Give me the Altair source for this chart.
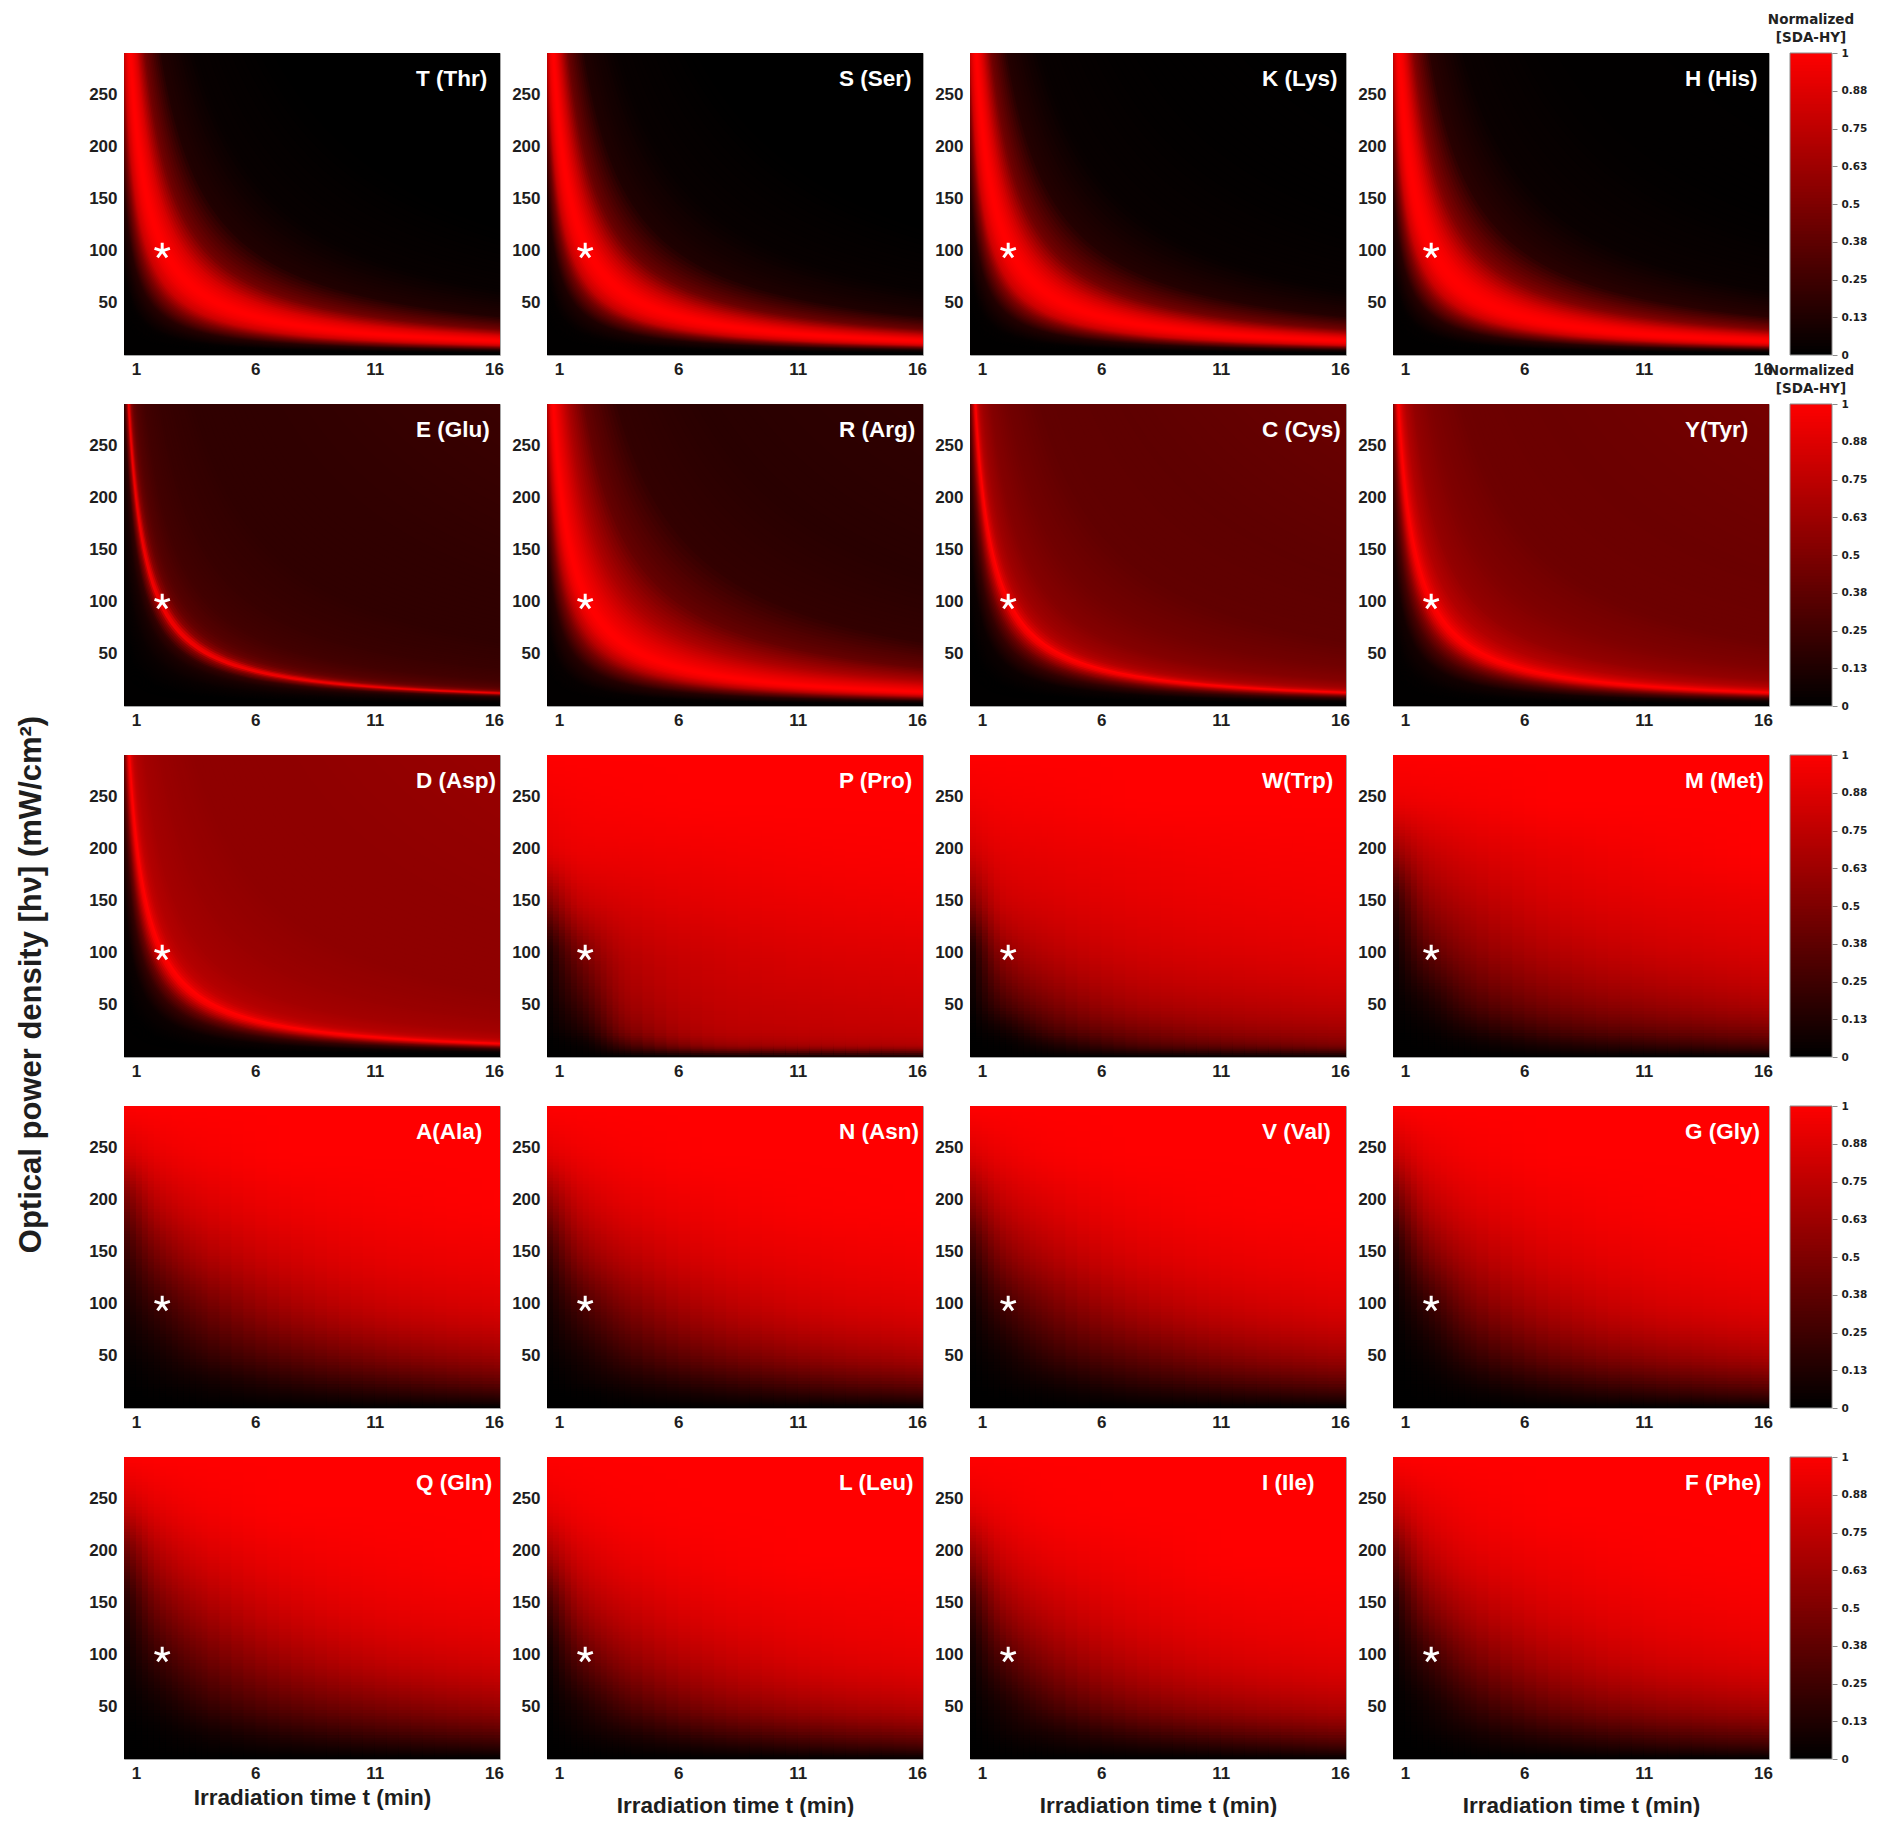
import numpy as np
import pandas as pd
import altair as alt

alt.data_transformers.disable_max_rows()

# ---------------- data ----------------
NAMES = [
    ["T (Thr)", "S (Ser)", "K (Lys)", "H (His)"],
    ["E (Glu)", "R (Arg)", "C (Cys)", "Y(Tyr)"],
    ["D (Asp)", "P (Pro)", "W(Trp)", "M (Met)"],
    ["A(Ala)", "N (Asn)", "V (Val)", "G (Gly)"],
    ["Q (Gln)", "L (Leu)", "I (Ile)", "F (Phe)"],
]
X_TICKS = [1, 6, 11, 16]
Y_TICKS = [50, 100, 150, 200, 250]
T_DOMAIN = [0.5, 16.25]
P_DOMAIN = [0, 290]
STAR_T = [2.1]
STAR_P = [100]
LEGEND_TICKS = [0, 0.125, 0.25, 0.375, 0.5, 0.625, 0.75, 0.875, 1]
Y_TITLE = "Optical power density [hν] (mW/cm²)"
X_TITLE = "Irradiation time t (min)"
LEGEND_TITLE = ["Normalized", "[SDA-HY]"]

# ridge panels: normalized value versus dose P*t (mW·min/cm²)
DOSE = [0, 40, 80, 120, 150, 180, 200, 215, 230, 260, 300, 400, 600, 1000, 2000, 5000]
PROFILE_T = [0, 0.02, 0.15, 0.50, 0.80, 0.93, 0.98, 1.0, 1.0, 0.95, 0.85, 0.45, 0.13, 0.03, 0.0, 0.0]
PROFILE_S = [0, 0.02, 0.12, 0.45, 0.78, 0.93, 0.98, 1.0, 1.0, 0.94, 0.82, 0.42, 0.12, 0.03, 0.0, 0.0]
PROFILE_K = [0, 0.02, 0.14, 0.48, 0.80, 0.93, 0.98, 1.0, 1.0, 0.95, 0.84, 0.45, 0.14, 0.03, 0.01, 0.0]
PROFILE_H = [0, 0.02, 0.15, 0.50, 0.80, 0.94, 0.99, 1.0, 1.0, 0.96, 0.86, 0.50, 0.16, 0.04, 0.01, 0.0]
PROFILE_E = [0, 0.01, 0.04, 0.10, 0.20, 0.55, 1.0, 0.80, 0.55, 0.40, 0.33, 0.26, 0.22, 0.19, 0.19, 0.23]
PROFILE_R = [0, 0.03, 0.15, 0.45, 0.72, 0.90, 0.97, 1.0, 1.0, 0.95, 0.88, 0.68, 0.40, 0.20, 0.16, 0.19]
PROFILE_C = [0, 0.01, 0.05, 0.20, 0.40, 0.70, 0.95, 1.0, 0.85, 0.70, 0.62, 0.52, 0.45, 0.38, 0.37, 0.42]
PROFILE_Y = [0, 0.02, 0.08, 0.28, 0.50, 0.80, 0.97, 1.0, 0.92, 0.80, 0.70, 0.58, 0.50, 0.43, 0.42, 0.46]
PROFILE_D = [0, 0.01, 0.05, 0.20, 0.42, 0.75, 0.97, 1.0, 0.88, 0.76, 0.70, 0.64, 0.60, 0.56, 0.56, 0.60]

RIDGE = {
    "T (Thr)": PROFILE_T, "S (Ser)": PROFILE_S, "K (Lys)": PROFILE_K, "H (His)": PROFILE_H,
    "E (Glu)": PROFILE_E, "R (Arg)": PROFILE_R, "C (Cys)": PROFILE_C, "Y(Tyr)": PROFILE_Y,
    "D (Asp)": PROFILE_D,
}

# smooth panels: values at time nodes (columns) for each power node (rows)
TN = [0.5, 2, 4, 8, 12, 16.25]
PN = [0, 12, 25, 50, 100, 150, 200, 250, 290]
GRID_PRO = [[0, 0, 0, 0.03, 0.05, 0.08], [0, 0.04, 0.30, 0.60, 0.66, 0.70], [0.01, 0.12, 0.50, 0.72, 0.75, 0.77],
            [0.03, 0.25, 0.62, 0.76, 0.79, 0.81], [0.10, 0.48, 0.73, 0.82, 0.86, 0.88], [0.50, 0.78, 0.85, 0.90, 0.93, 0.95],
            [0.88, 0.93, 0.94, 0.96, 0.98, 0.99], [0.96, 0.98, 0.99, 1, 1, 1], [1, 1, 1, 1, 1, 1]]
GRID_TRP = [[0, 0, 0, 0.01, 0.03, 0.05], [0, 0.02, 0.12, 0.32, 0.42, 0.50], [0, 0.08, 0.28, 0.48, 0.58, 0.63],
            [0.02, 0.28, 0.48, 0.66, 0.72, 0.76], [0.08, 0.58, 0.72, 0.82, 0.86, 0.89], [0.50, 0.80, 0.85, 0.90, 0.93, 0.95],
            [0.82, 0.90, 0.92, 0.95, 0.97, 0.98], [0.95, 0.97, 0.98, 1, 1, 1], [1, 1, 1, 1, 1, 1]]
GRID_MET = [[0, 0, 0, 0, 0, 0.02], [0, 0.01, 0.04, 0.14, 0.22, 0.30], [0, 0.03, 0.12, 0.30, 0.40, 0.48],
            [0.01, 0.10, 0.30, 0.50, 0.60, 0.68], [0.04, 0.35, 0.55, 0.72, 0.80, 0.85], [0.18, 0.58, 0.72, 0.85, 0.90, 0.93],
            [0.60, 0.78, 0.86, 0.93, 0.97, 1], [0.93, 0.95, 0.97, 1, 1, 1], [1, 1, 1, 1, 1, 1]]
GRID_ALA = [[0, 0, 0, 0, 0, 0], [0, 0.01, 0.03, 0.08, 0.14, 0.20], [0, 0.03, 0.07, 0.18, 0.28, 0.38],
            [0.02, 0.08, 0.20, 0.38, 0.52, 0.62], [0.08, 0.25, 0.45, 0.68, 0.80, 0.86], [0.20, 0.50, 0.70, 0.85, 0.92, 0.95],
            [0.45, 0.75, 0.87, 0.95, 0.98, 1], [0.85, 0.93, 0.97, 1, 1, 1], [1, 1, 1, 1, 1, 1]]
GRID_ASN = [[0, 0, 0, 0, 0, 0.01], [0, 0.01, 0.04, 0.10, 0.17, 0.23], [0, 0.04, 0.10, 0.22, 0.33, 0.42],
            [0.02, 0.10, 0.25, 0.45, 0.58, 0.67], [0.07, 0.30, 0.52, 0.73, 0.83, 0.88], [0.22, 0.58, 0.75, 0.88, 0.93, 0.96],
            [0.55, 0.80, 0.90, 0.96, 0.99, 1], [0.90, 0.95, 0.98, 1, 1, 1], [1, 1, 1, 1, 1, 1]]
GRID_VAL = [[0, 0, 0, 0, 0, 0], [0, 0.01, 0.03, 0.09, 0.15, 0.20], [0, 0.03, 0.08, 0.20, 0.30, 0.38],
            [0.01, 0.08, 0.22, 0.40, 0.54, 0.63], [0.05, 0.28, 0.48, 0.70, 0.81, 0.87], [0.20, 0.55, 0.72, 0.87, 0.93, 0.96],
            [0.55, 0.78, 0.88, 0.96, 0.99, 1], [0.88, 0.94, 0.98, 1, 1, 1], [1, 1, 1, 1, 1, 1]]
GRID_GLY = [[0, 0, 0, 0, 0, 0.01], [0, 0.01, 0.03, 0.10, 0.17, 0.24], [0, 0.02, 0.08, 0.22, 0.33, 0.42],
            [0, 0.06, 0.22, 0.45, 0.58, 0.67], [0.02, 0.22, 0.50, 0.73, 0.84, 0.89], [0.10, 0.50, 0.72, 0.88, 0.94, 0.97],
            [0.40, 0.75, 0.88, 0.96, 0.99, 1], [0.80, 0.92, 0.97, 1, 1, 1], [1, 1, 1, 1, 1, 1]]
GRID_GLN = [[0, 0, 0, 0, 0, 0], [0, 0.01, 0.03, 0.08, 0.13, 0.18], [0, 0.02, 0.07, 0.18, 0.27, 0.35],
            [0.01, 0.07, 0.20, 0.38, 0.50, 0.60], [0.04, 0.25, 0.45, 0.67, 0.79, 0.85], [0.12, 0.48, 0.68, 0.85, 0.92, 0.95],
            [0.40, 0.72, 0.86, 0.95, 0.98, 1], [0.82, 0.92, 0.97, 1, 1, 1], [1, 1, 1, 1, 1, 1]]
GRID_LEU = [[0, 0, 0, 0, 0.01, 0.02], [0, 0.02, 0.05, 0.12, 0.20, 0.27], [0, 0.05, 0.12, 0.27, 0.38, 0.47],
            [0.01, 0.12, 0.30, 0.52, 0.64, 0.72], [0.05, 0.38, 0.60, 0.78, 0.87, 0.91], [0.25, 0.65, 0.80, 0.91, 0.95, 0.97],
            [0.65, 0.85, 0.93, 0.98, 1, 1], [0.93, 0.97, 0.99, 1, 1, 1], [1, 1, 1, 1, 1, 1]]
GRID_ILE = [[0, 0, 0, 0, 0.01, 0.02], [0, 0.02, 0.05, 0.11, 0.18, 0.25], [0, 0.05, 0.11, 0.25, 0.36, 0.45],
            [0.01, 0.11, 0.28, 0.50, 0.62, 0.70], [0.05, 0.35, 0.57, 0.77, 0.86, 0.90], [0.22, 0.62, 0.78, 0.90, 0.95, 0.97],
            [0.60, 0.83, 0.92, 0.97, 1, 1], [0.92, 0.96, 0.99, 1, 1, 1], [1, 1, 1, 1, 1, 1]]
GRID_PHE = [[0, 0, 0, 0, 0, 0.01], [0, 0.01, 0.04, 0.10, 0.17, 0.23], [0, 0.03, 0.09, 0.22, 0.33, 0.41],
            [0, 0.07, 0.22, 0.45, 0.58, 0.66], [0.03, 0.25, 0.50, 0.73, 0.84, 0.89], [0.12, 0.52, 0.73, 0.88, 0.94, 0.97],
            [0.42, 0.76, 0.89, 0.96, 0.99, 1], [0.82, 0.92, 0.97, 1, 1, 1], [1, 1, 1, 1, 1, 1]]

SMOOTH = {
    "P (Pro)": GRID_PRO, "W(Trp)": GRID_TRP, "M (Met)": GRID_MET,
    "A(Ala)": GRID_ALA, "N (Asn)": GRID_ASN, "V (Val)": GRID_VAL, "G (Gly)": GRID_GLY,
    "Q (Gln)": GRID_GLN, "L (Leu)": GRID_LEU, "I (Ile)": GRID_ILE, "F (Phe)": GRID_PHE,
}


def pchip(xn, yn, x):
    """Monotone piecewise-cubic curve through the read nodes (no overshoot)."""
    xn = np.asarray(xn, float)
    yn = np.asarray(yn, float)
    h = np.diff(xn)
    d = np.diff(yn) / h
    n = len(xn)
    m = np.zeros(n)
    for k in range(1, n - 1):
        if d[k - 1] * d[k] > 0:
            w1 = 2 * h[k] + h[k - 1]
            w2 = h[k] + 2 * h[k - 1]
            m[k] = (w1 + w2) / (w1 / d[k - 1] + w2 / d[k])
    m[0] = d[0]
    m[-1] = d[-1]
    x = np.asarray(x, float)
    i = np.clip(np.searchsorted(xn, x) - 1, 0, n - 2)
    s = (x - xn[i]) / h[i]
    h00 = 2 * s ** 3 - 3 * s ** 2 + 1
    h10 = s ** 3 - 2 * s ** 2 + s
    h01 = -2 * s ** 3 + 3 * s ** 2
    h11 = s ** 3 - s ** 2
    return np.clip(h00 * yn[i] + h10 * h[i] * m[i] + h01 * yn[i + 1] + h11 * h[i] * m[i + 1], 0, 1)


# ---------------- tables for the library ----------------
# ridge panels: iso-dose bands, each area runs from P = D0/t up to the top and later
# (higher-dose) bands are painted over it, so no seams appear between bands
d_edges = np.concatenate([[0.0], np.geomspace(20, 5000, 130)])
t_samp = np.geomspace(T_DOMAIN[0], T_DOMAIN[1], 64)
rrows = []
for name, prof in RIDGE.items():
    for b in range(len(d_edges) - 1):
        d0, d1 = d_edges[b], d_edges[b + 1]
        dm = np.sqrt(d0 * d1) if d0 > 0 else d1 / 2
        v = float(np.interp(dm, DOSE, prof))
        lo = d0 / t_samp
        vis = np.where(lo < 290)[0]
        if len(vis) == 0:
            continue
        s = max(vis[0] - 1, 0)
        for j in range(s, len(t_samp)):
            rrows.append((name, b, round(float(t_samp[j]), 4), round(float(min(lo[j], 300)), 2), 300.0, round(v, 3)))
ridge_df = pd.DataFrame(rrows, columns=["k", "b", "t", "y0", "y1", "v"])

# smooth panels: cells; each cell reaches well past its neighbours' edges (drawn
# column by column, bottom to top) so that anti-aliasing leaves no light seams
t_edges = np.unique(np.round(np.concatenate([np.arange(0.5, 4.0, 0.25), np.arange(4.0, 16.25, 0.5), [16.25]]), 3))
p_edges = np.unique(np.concatenate([np.arange(0, 20, 2), np.arange(20, 290, 3), [290]]))
t_cent = 0.5 * (t_edges[:-1] + t_edges[1:])
p_cent = 0.5 * (p_edges[:-1] + p_edges[1:])
srows = []
for name, grid in SMOOTH.items():
    g = np.array(grid, float)
    along_t = np.array([pchip(TN, g[j], t_cent) for j in range(len(PN))])
    for i in range(len(t_cent)):
        vals = pchip(PN, along_t[:, i], p_cent)
        for j in range(len(p_cent)):
            srows.append((name, float(t_edges[i]), round(float(t_edges[i + 1]) + 0.1, 3),
                          float(p_edges[j]), float(p_edges[j + 1]) + 2.5, round(float(vals[j]), 3)))
smooth_df = pd.DataFrame(srows, columns=["k", "t", "t2", "y0", "y1", "v"])

star_df = pd.DataFrame({"t": STAR_T, "y0": STAR_P})
LEG_STEPS = np.round(np.linspace(0, 1, 101), 3)
leg_df = pd.DataFrame({"v": LEG_STEPS[:-1], "v2": np.minimum(LEG_STEPS[1:] + 0.008, 1.0)})
frame_df = pd.DataFrame({"a": [0]})

COLOR = alt.Scale(domain=[0, 1], range=["#000000", "#ff0000"], interpolate="rgb")
ASTERISK = "M0,0L0,-1M0,0L0.951,-0.309M0,0L0.588,0.809M0,0L-0.588,0.809M0,0L-0.951,-0.309"

W, H = 376, 302


def panel(name, r, c):
    xs = alt.Scale(domain=T_DOMAIN, nice=False, zero=False)
    ys = alt.Scale(domain=P_DOMAIN, nice=False, zero=False)
    if r == 4:
        xaxis = alt.Axis(values=X_TICKS, title=X_TITLE, labelPadding=6, labelFlush=False,
                         titlePadding=(5 if c == 0 else 13))
    else:
        xaxis = alt.Axis(values=X_TICKS, title=None, labelPadding=6, labelFlush=False)
    if r == 2 and c == 0:
        yaxis = alt.Axis(values=Y_TICKS, title=Y_TITLE, labelPadding=7, titleX=-93, titleY=229,
                         titleAngle=270, titleAlign="center", titleBaseline="middle", titleFontSize=31)
    else:
        yaxis = alt.Axis(values=Y_TICKS, title=None, labelPadding=7)

    if name in RIDGE:
        base = alt.Chart(ridge_df).transform_filter(alt.datum.k == name).mark_area(clip=True).encode(
            x=alt.X("t:Q", scale=xs, axis=xaxis),
            y=alt.Y("y0:Q", scale=ys, axis=yaxis, stack=None),
            y2="y1:Q",
            color=alt.Color("v:Q", scale=COLOR, legend=None),
            detail="b:O",
        )
    else:
        base = alt.Chart(smooth_df).transform_filter(alt.datum.k == name).mark_rect(clip=True).encode(
            x=alt.X("t:Q", scale=xs, axis=xaxis),
            x2="t2:Q",
            y=alt.Y("y0:Q", scale=ys, axis=yaxis),
            y2="y1:Q",
            color=alt.Color("v:Q", scale=COLOR, legend=None),
        )
    star = alt.Chart(star_df).mark_point(shape=ASTERISK, filled=False, color="white", strokeWidth=3,
                                         size=260, opacity=1, strokeCap="butt").encode(x="t:Q", y="y0:Q")
    lab = alt.Chart(pd.DataFrame({"name": [name]})).mark_text(
        align="left", baseline="alphabetic", color="white", font="Liberation Sans",
        fontWeight="bold", fontSize=22.5).encode(x=alt.value(292), y=alt.value(33), text="name:N")
    return alt.layer(base, star, lab).properties(width=W, height=H)


def colorbar(r):
    bar = alt.Chart(leg_df).mark_rect().encode(
        x=alt.value(-26), x2=alt.value(16),
        y=alt.Y("v:Q", scale=alt.Scale(domain=[0, 1], nice=False, zero=False),
                axis=alt.Axis(orient="right", values=LEGEND_TICKS, format=".2~f", ticks=True, tickSize=5,
                              tickColor="#8c8c8c", labelFont="DejaVu Sans", labelFontSize=10.5,
                              labelPadding=4, title=None)),
        y2="v2:Q",
        color=alt.Color("v:Q", scale=COLOR, legend=None),
    )
    frame = alt.Chart(frame_df).mark_rect(filled=False, color="#8c8c8c", strokeWidth=1).encode(
        x=alt.value(-26), x2=alt.value(16), y=alt.value(0), y2=alt.value(H))
    ch = alt.layer(bar, frame)
    if r < 2:
        ch = ch.properties(title=alt.TitleParams(LEGEND_TITLE, font="DejaVu Sans", fontSize=13.5,
                                                 fontWeight="bold", color="#222222", anchor="middle",
                                                 dx=-13, offset=4, lineHeight=18))
    return ch.properties(width=16, height=H, view=alt.ViewBackground(stroke="transparent"))


items = []
for r in range(5):
    for c in range(4):
        items.append(panel(NAMES[r][c], r, c))
    items.append(colorbar(r))

chart = alt.concat(*items, columns=5, spacing={"row": 49, "column": 47}, bounds="flush").properties(
    padding={"left": 6, "top": 4, "right": 0, "bottom": 0}
).configure_view(
    stroke="#a6a6a6", strokeWidth=1
).configure_axis(
    domain=False, ticks=False, grid=False,
    labelFont="Liberation Sans", labelFontWeight="bold", labelFontSize=17, labelColor="#1e1e1e",
    titleFont="Liberation Sans", titleFontWeight="bold", titleFontSize=22.5, titleColor="#1e1e1e",
)

chart.save("out.html", embed_options={"renderer": "svg", "actions": False})
